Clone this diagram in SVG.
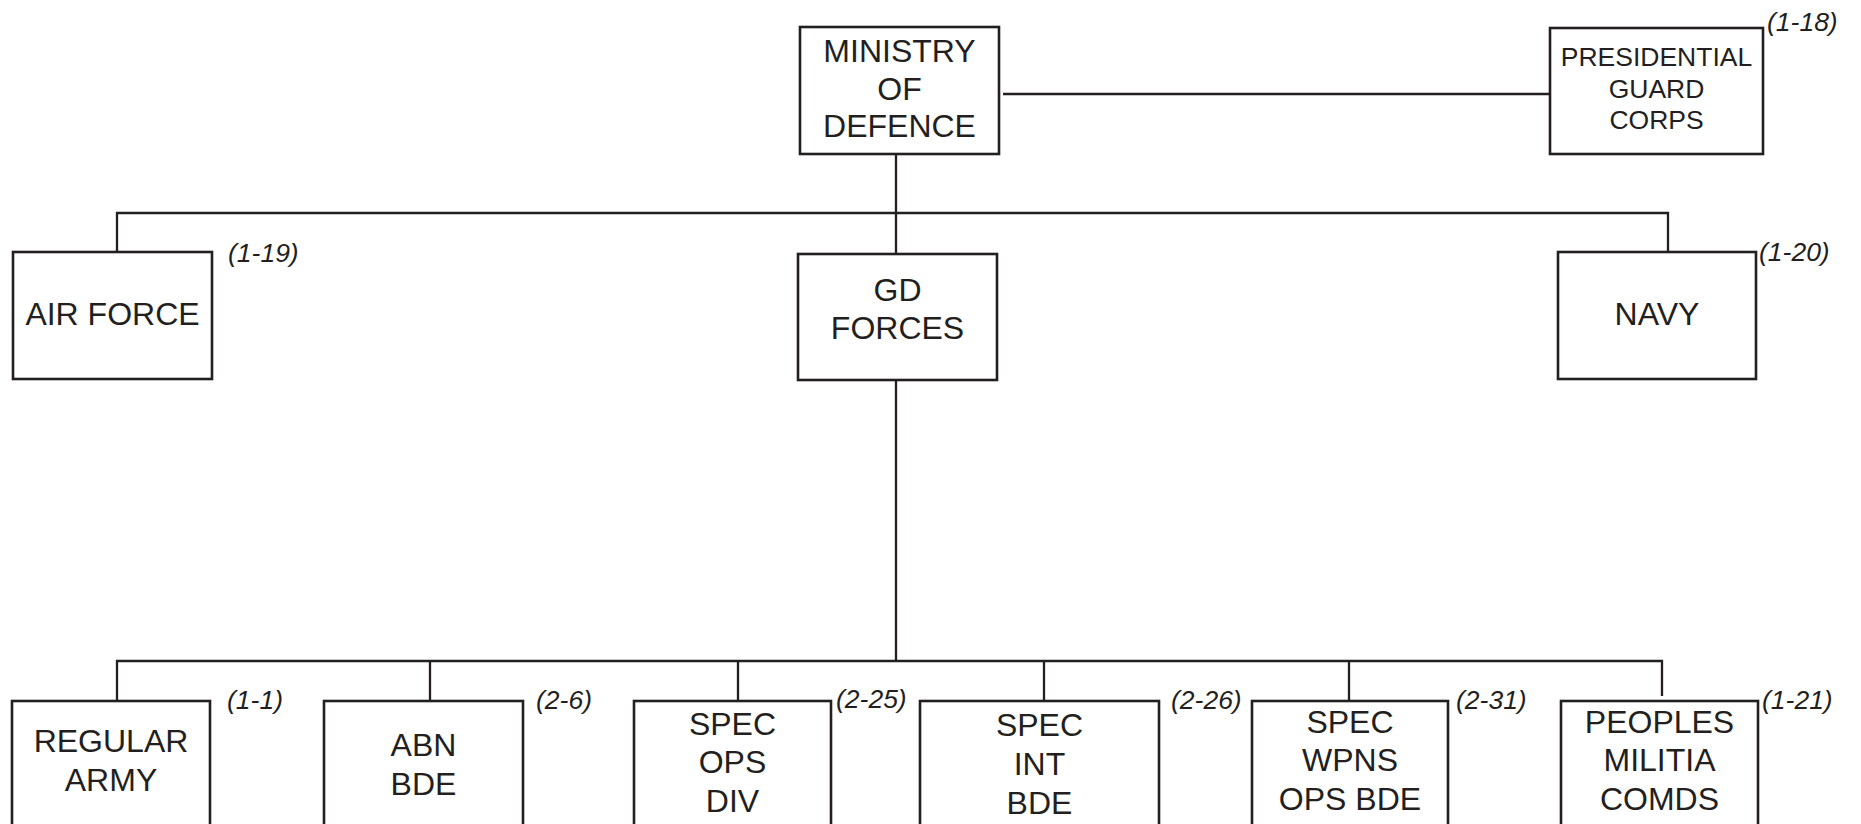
<svg xmlns="http://www.w3.org/2000/svg" width="1861" height="824" viewBox="0 0 1861 824">
<style>
.box{fill:#fff;stroke:#231f20;stroke-width:2.6}
.con{fill:none;stroke:#231f20;stroke-width:2.3}
.t{font-family:"Liberation Sans",Arial,sans-serif;font-size:32px;fill:#231f20;text-anchor:middle}
.ts{font-family:"Liberation Sans",Arial,sans-serif;font-size:26.5px;fill:#231f20;text-anchor:middle}
.lab{font-family:"Liberation Sans",Arial,sans-serif;font-size:26.5px;font-style:italic;fill:#231f20}
</style>
<rect width="1861" height="824" fill="#fff"/>
<g id="connectors">
<line class="con" x1="1003" y1="94" x2="1550" y2="94"/>
<line class="con" x1="896" y1="151" x2="896" y2="254"/>
<polyline class="con" points="117,252 117,213 1668,213 1668,252"/>
<line class="con" x1="896" y1="380" x2="896" y2="661"/>
<polyline class="con" points="117,701 117,661 1662,661 1662,696"/>
<line class="con" x1="430" y1="661" x2="430" y2="701"/>
<line class="con" x1="738" y1="661" x2="738" y2="701"/>
<line class="con" x1="1044" y1="661" x2="1044" y2="701"/>
<line class="con" x1="1349" y1="661" x2="1349" y2="701"/>
</g>
<g id="ministry">
<rect class="box" x="800" y="27" width="199" height="127"/>
<text class="t" x="899.5" y="62">MINISTRY</text>
<text class="t" x="899.5" y="100">OF</text>
<text class="t" x="899.5" y="137">DEFENCE</text>
</g>
<g id="presidential">
<rect class="box" x="1550" y="28" width="213" height="126"/>
<text class="ts" x="1656.5" y="66">PRESIDENTIAL</text>
<text class="ts" x="1656.5" y="98">GUARD</text>
<text class="ts" x="1656.5" y="129">CORPS</text>
<text class="lab" x="1767" y="31">(1-18)</text>
</g>
<g id="airforce">
<rect class="box" x="13" y="252" width="199" height="127"/>
<text class="t" x="112.5" y="325">AIR FORCE</text>
<text class="lab" x="228" y="262">(1-19)</text>
</g>
<g id="gdforces">
<rect class="box" x="798" y="254" width="199" height="126"/>
<text class="t" x="897.5" y="301">GD</text>
<text class="t" x="897.5" y="339">FORCES</text>
</g>
<g id="navy">
<rect class="box" x="1558" y="252" width="198" height="127"/>
<text class="t" x="1657" y="325">NAVY</text>
<text class="lab" x="1759" y="261">(1-20)</text>
</g>
<g id="regulararmy">
<rect class="box" x="12" y="701" width="198" height="150"/>
<text class="t" x="111" y="752">REGULAR</text>
<text class="t" x="111" y="791">ARMY</text>
<text class="lab" x="227" y="709">(1-1)</text>
</g>
<g id="abnbde">
<rect class="box" x="324" y="701" width="199" height="150"/>
<text class="t" x="423.5" y="756">ABN</text>
<text class="t" x="423.5" y="795">BDE</text>
<text class="lab" x="536" y="709">(2-6)</text>
</g>
<g id="specopsdiv">
<rect class="box" x="634" y="701" width="197" height="150"/>
<text class="t" x="732.5" y="735">SPEC</text>
<text class="t" x="732.5" y="773">OPS</text>
<text class="t" x="732.5" y="812">DIV</text>
<text class="lab" x="836" y="708">(2-25)</text>
</g>
<g id="specintbde">
<rect class="box" x="920" y="701" width="239" height="150"/>
<text class="t" x="1039.5" y="736">SPEC</text>
<text class="t" x="1039.5" y="775">INT</text>
<text class="t" x="1039.5" y="814">BDE</text>
<text class="lab" x="1171" y="709">(2-26)</text>
</g>
<g id="specwpns">
<rect class="box" x="1252" y="701" width="196" height="150"/>
<text class="t" x="1350" y="733">SPEC</text>
<text class="t" x="1350" y="771">WPNS</text>
<text class="t" x="1350" y="810">OPS BDE</text>
<text class="lab" x="1456" y="709">(2-31)</text>
</g>
<g id="peoplesmilitia">
<rect class="box" x="1561" y="701" width="197" height="150"/>
<text class="t" x="1659.5" y="733">PEOPLES</text>
<text class="t" x="1659.5" y="771">MILITIA</text>
<text class="t" x="1659.5" y="810">COMDS</text>
<text class="lab" x="1762" y="709">(1-21)</text>
</g>
</svg>
